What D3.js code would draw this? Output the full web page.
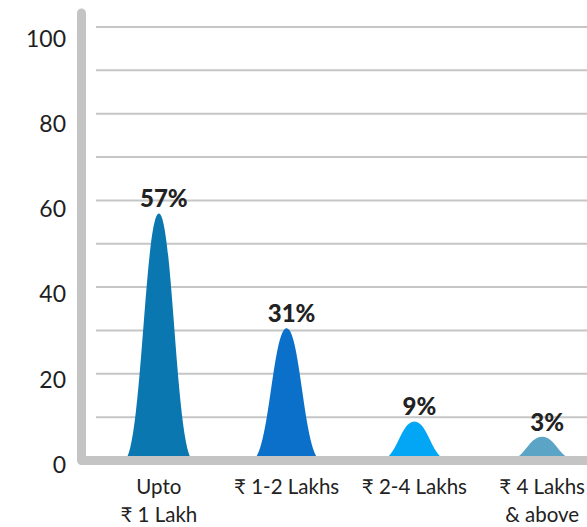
<!DOCTYPE html>
<html>
<head>
<meta charset="utf-8">
<script src="https://cdn.jsdelivr.net/npm/d3@7"></script>
<style>
  html, body { margin: 0; padding: 0; background: #ffffff; }
  svg { display: block; }
</style>
</head>
<body>
<svg id="chart" width="587" height="527"></svg>
<script>
// ---- data ----
const categories = ["Upto|₹ 1 Lakh", "₹ 1-2 Lakhs", "₹ 2-4 Lakhs", "₹ 4 Lakhs|& above"];
const values = [57, 30.5, 9, 5.5];
const valueLabels = ["57%", "31%", "9%", "3%"];
const colors = ["#0a77b1", "#0a70c9", "#03a6f4", "#5ba4c5"];
const yTicks = [0, 20, 40, 60, 80, 100];
const gridTicks = [10, 20, 30, 40, 50, 60, 70, 80, 90, 100];

const svg = d3.select("#chart");
const FONT = "Lato, 'Noto Sans', 'DejaVu Sans', sans-serif";

const x = d3.scaleBand().domain(categories).range([95, 606]).padding(0);
const y = d3.scaleLinear().domain([0, 100]).range([460.5, 27]);
const yLab = d3.scaleLinear().domain([0, 100]).range([464.5, 38.5]);

// gridlines
svg.append("g").selectAll("line").data(gridTicks).join("line")
  .attr("x1", 96).attr("x2", 587)
  .attr("y1", d => y(d)).attr("y2", d => y(d))
  .attr("stroke", "#c6c6c6").attr("stroke-width", 2);

// y tick labels
svg.append("g").selectAll("text").data(yTicks).join("text")
  .attr("x", 66).attr("y", d => yLab(d))
  .attr("dy", "0.36em")
  .attr("text-anchor", "end")
  .attr("font-family", FONT).attr("font-size", 23)
  .attr("fill", "#1e1e1e")
  .text(d => d);

// peaks
const hw = 35;
function peakPath(cx, v) {
  const y0 = y(0), yt = y(v);
  const a = 0.5 * hw, b = 0.4 * hw;
  return `M${cx - hw},${y0} C${cx - a},${y0} ${cx - b},${yt} ${cx},${yt} ` +
         `C${cx + b},${yt} ${cx + a},${y0} ${cx + hw},${y0} Z`;
}
svg.append("g").selectAll("path").data(categories).join("path")
  .attr("d", (c, i) => peakPath(x(c) + x.bandwidth() / 2, values[i]))
  .attr("fill", (c, i) => colors[i]);

// axis (left + bottom)
svg.append("path")
  .attr("d", `M81.5,13 V${y(0)} H600`)
  .attr("fill", "none")
  .attr("stroke", "#c4c4c4")
  .attr("stroke-width", 9)
  .attr("stroke-linecap", "round")
  .attr("stroke-linejoin", "round");

// value labels
svg.append("g").selectAll("text").data(categories).join("text")
  .attr("x", c => x(c) + x.bandwidth() / 2 + 5)
  .attr("y", (c, i) => y(values[i]) - 6)
  .attr("text-anchor", "middle")
  .attr("font-family", FONT).attr("font-size", 24).attr("font-weight", 900)
  .attr("fill", "#222")
  .text((c, i) => valueLabels[i]);

// category labels
const cat = svg.append("g").selectAll("text").data(categories).join("text")
  .attr("x", c => x(c) + x.bandwidth() / 2)
  .attr("y", 494)
  .attr("text-anchor", "middle")
  .attr("font-family", FONT).attr("font-size", 20.5)
  .attr("fill", "#222");
cat.each(function(c) {
  const lines = c.split("|");
  d3.select(this).selectAll("tspan").data(lines).join("tspan")
    .attr("x", x(c) + x.bandwidth() / 2)
    .attr("dy", (d, i) => i === 0 ? 0 : 28)
    .text(d => d);
});
</script>
</body>
</html>
